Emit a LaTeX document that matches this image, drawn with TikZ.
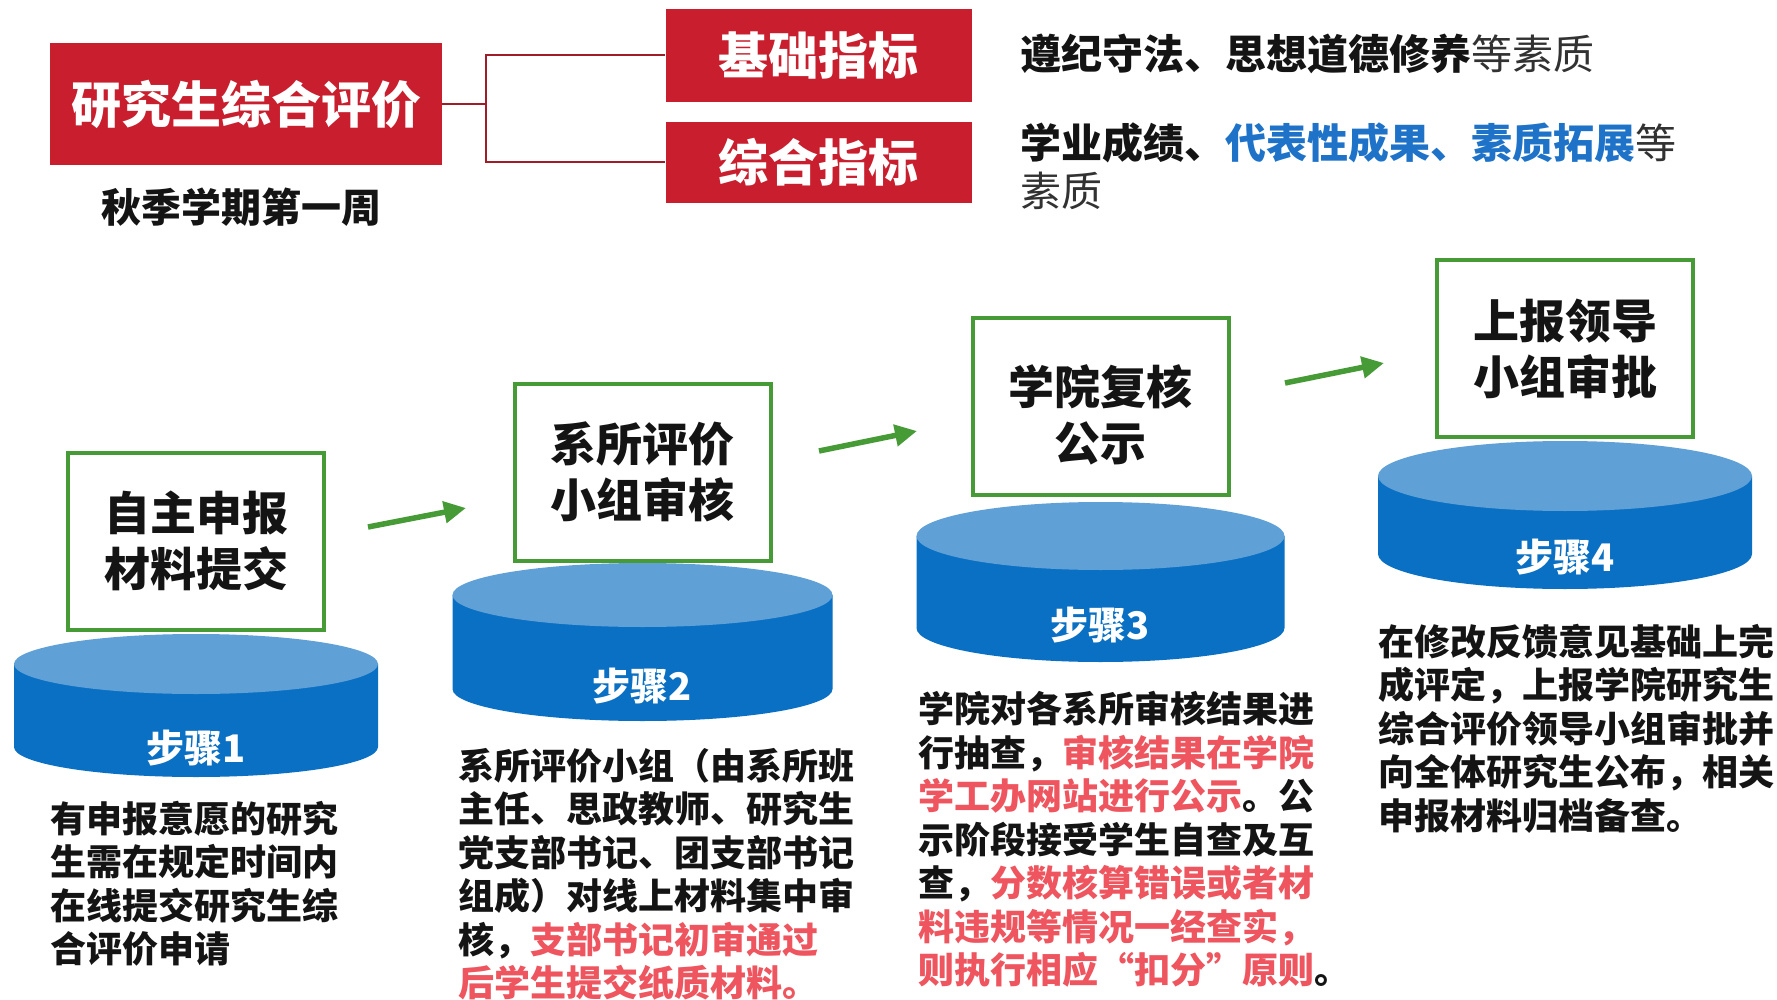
\documentclass[tikz,border=0pt]{standalone}
\usepackage{fontspec}
\setmainfont{Noto Sans CJK SC}
\usetikzlibrary{arrows.meta}
\definecolor{cRed}{RGB}{200,30,45}
\definecolor{cLine}{RGB}{160,28,40}
\definecolor{cGreen}{RGB}{70,155,55}
\definecolor{cSide}{RGB}{10,112,195}
\definecolor{cTop}{RGB}{95,160,215}
\definecolor{cText}{RGB}{20,20,20}
\definecolor{cGray}{RGB}{50,50,50}
\definecolor{cBlue}{RGB}{30,115,200}
\definecolor{cHi}{RGB}{238,85,95}
\newcommand\mydrum[5]{%
  \fill[cSide] (#1-#4,#2) -- (#1-#4,#3) arc[start angle=180,end angle=360,x radius=#4pt,y radius=#5pt] -- (#1+#4,#2) -- cycle;
  \fill[cTop] (#1,#2) ellipse[x radius=#4pt, y radius=#5pt];
}
\begin{document}
\begin{tikzpicture}[x=1pt,y=-1pt,
  redbox/.style={fill=cRed, text=white, font=\bfseries\fontsize{50}{55}\selectfont, inner sep=0pt},
  stepbox/.style={draw=cGreen, line width=4pt, fill=white, inner sep=0pt, minimum width=256pt, minimum height=177pt, align=center, font=\bfseries\fontsize{46}{56}\selectfont, text=cText},
  steptext/.style={inner sep=0pt, align=center, font=\bfseries\fontsize{46}{56}\selectfont, text=cText},
  steplabel/.style={text=white, font=\bfseries\fontsize{38}{40}\selectfont, inner sep=0pt},
  desc/.style={anchor=north west, inner sep=0pt, align=left, font=\bfseries\fontsize{36}{43.5}\selectfont, text=cText},
  flow/.style={draw=cGreen, line width=5.5pt, -{Triangle[length=22pt,width=21pt]}},
  conn/.style={draw=cLine, line width=2pt},
]
\useasboundingbox (0,0) rectangle (1777,1000);
\fill[white] (0,0) rectangle (1777,1000);

% top part
\node[redbox, minimum width=392pt, minimum height=122pt] (r1) at (246,104) {研究生综合评价};
\node[redbox, minimum width=306pt, minimum height=93pt] (r2) at (818.5,55.5) {基础指标};
\node[redbox, minimum width=306pt, minimum height=81pt] (r3) at (818.5,162.5) {综合指标};
\node[font=\bfseries\fontsize{40}{44}\selectfont, text=cText, inner sep=0pt] (week) at (241,207) {秋季学期第一周};
\draw[conn] (r1.east) -- ++(44,0) coordinate (j);
\draw[conn] (j) |- (r2.west);
\draw[conn] (j) |- (r3.west);

\node[anchor=west, inner sep=0pt, font=\fontsize{41}{48}\selectfont, text=cGray] (d1) at (1020,54) {\textbf{\textcolor{cText}{遵纪守法、思想道德修养}}等素质};
\node[anchor=north west, inner sep=0pt, align=left, font=\fontsize{41}{48}\selectfont, text=cGray] (d2) at (1020,123) {\textbf{\textcolor{cText}{学业成绩、}\textcolor{cBlue}{代表性成果、素质拓展}}等\\素质};

% cylinders
\mydrum{196}{664}{747}{182}{30}
\mydrum{642.5}{595}{689}{190}{32}
\mydrum{1100.5}{536}{628}{184}{34}
\mydrum{1565}{476}{554}{187}{35}
\node[steplabel] (s1) at (196,748) {步骤1};
\node[steplabel] (s2) at (642.5,686) {步骤2};
\node[steplabel] (s3) at (1100.5,625) {步骤3};
\node[steplabel] (s4) at (1565,557) {步骤4};

% step boxes
\node[stepbox] (b1) at (196,541) {自主申报\\材料提交};
\node[stepbox] (b2) at (642.5,472) {系所评价\\小组审核};
\node[stepbox] (b3) at (1100.5,406.5) {};
\node[steptext] (b3t) at (1100.5,415) {学院复核\\公示};
\node[stepbox] (b4) at (1565,348.5) {上报领导\\小组审批};

% arrows
\coordinate (a1s) at (368,527); \coordinate (a1e) at (466,508);
\coordinate (a2s) at (819,451); \coordinate (a2e) at (917,431);
\coordinate (a3s) at (1285,383); \coordinate (a3e) at (1384,363);
\draw[flow] (a1s) -- (a1e);
\draw[flow] (a2s) -- (a2e);
\draw[flow] (a3s) -- (a3e);

% descriptions
\node[desc] (t1) at (50,801) {有申报意愿的研究\\生需在规定时间内\\在线提交研究生综\\合评价申请};
\node[desc] (t2) at (458,748) {系所评价小组（由系所班\\主任、思政教师、研究生\\党支部书记、团支部书记\\组成）对线上材料集中审\\核，\textcolor{cHi}{支部书记初审通过}\\\textcolor{cHi}{后学生提交纸质材料。}};
\node[desc] (t3) at (918,691) {学院对各系所审核结果进\\行抽查，\textcolor{cHi}{审核结果在学院}\\\textcolor{cHi}{学工办网站进行公示}。公\\示阶段接受学生自查及互\\查，\textcolor{cHi}{分数核算错误或者材}\\\textcolor{cHi}{料违规等情况一经查实，}\\\textcolor{cHi}{则执行相应“扣分”原则}。};
\node[desc] (t4) at (1378,624) {在修改反馈意见基础上完\\成评定，上报学院研究生\\综合评价领导小组审批并\\向全体研究生公布，相关\\申报材料归档备查。};
\end{tikzpicture}
\end{document}
